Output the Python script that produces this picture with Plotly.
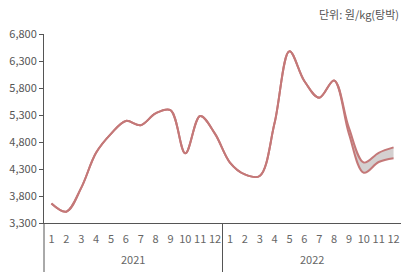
import plotly.graph_objects as go

months = [str(m) for m in range(1, 13)] * 2
years = ["2021", "2022"]
x_idx = list(range(1, 25))

# 원/kg(탕박) - upper band / main line
upper = [3660, 3510, 3950, 4600, 4950, 5190, 5110, 5330, 5390, 4590, 5280, 4950,
         4420, 4200, 4170, 5150, 6480, 5930, 5620, 5940, 5060, 4420, 4600, 4700]
# lower band (identical to upper until Aug 2022)
lower = upper[:20] + [4950, 4230, 4430, 4500]

line_color = "#c47878"
fill_color = "rgba(205,200,200,0.85)"
axis_color = "#555555"
font_family = "Noto Sans CJK KR, Noto Sans, sans-serif"

fig = go.Figure()
fig.add_trace(go.Scatter(x=x_idx, y=lower, mode="lines",
                         line=dict(color=line_color, width=2, shape="spline", smoothing=1.0),
                         showlegend=False, hoverinfo="skip"))
fig.add_trace(go.Scatter(x=x_idx, y=upper, mode="lines", fill="tonexty", fillcolor=fill_color,
                         line=dict(color=line_color, width=2, shape="spline", smoothing=1.0),
                         showlegend=False, hoverinfo="skip"))

fig.update_layout(
    width=406, height=272,
    margin=dict(l=44, r=5, t=34, b=49),
    paper_bgcolor="white", plot_bgcolor="white",
    font=dict(family=font_family, size=11, color=axis_color),
    xaxis=dict(range=[0.5, 24.5], tickmode="array", tickvals=x_idx, ticktext=months,
               showgrid=False, zeroline=False, showline=True, linecolor=axis_color, linewidth=1,
               ticks="", ticklabelstandoff=6, tickfont=dict(size=11, color="#666666"),
               fixedrange=True),
    yaxis=dict(range=[3300, 6800], tickmode="array",
               tickvals=[3300, 3800, 4300, 4800, 5300, 5800, 6300, 6800],
               tickformat=",", showgrid=False, zeroline=False, showline=True,
               linecolor=axis_color, linewidth=1, ticks="outside", ticklen=4,
               tickcolor=axis_color, tickfont=dict(size=11, color="#555555"), fixedrange=True),
)

bottom = -49 / 189
for xp in [0, 0.5]:
    fig.add_shape(type="line", xref="paper", yref="paper", x0=xp, x1=xp, y0=0, y1=bottom,
                  line=dict(color=axis_color, width=1))

for i, yr in enumerate(years):
    fig.add_annotation(x=6.5 + 12 * i, y=-0.19, xref="x", yref="paper", text=yr, showarrow=False,
                       yanchor="middle", font=dict(size=11, color="#666666"))

fig.add_annotation(x=1, y=1.105, xref="paper", yref="paper", xanchor="right", yanchor="middle",
                   text="단위: 원/kg(탕박)", showarrow=False, font=dict(size=11, color="#555555"))

fig.write_html("out.html")
